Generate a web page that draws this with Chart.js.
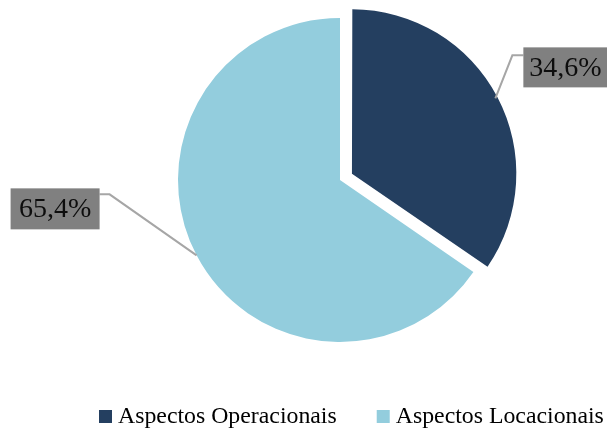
<!DOCTYPE html>
<html>
<head>
<meta charset="utf-8">
<script src="https://cdn.jsdelivr.net/npm/chart.js@4/dist/chart.umd.min.js"></script>
<style>
  html, body { margin: 0; padding: 0; background: #ffffff; }
  #wrap { width: 607px; height: 428px; }
</style>
</head>
<body>
<div id="wrap"><canvas id="chart" width="607" height="428"></canvas></div>
<script>
// Share of each group of aspects (percent)
const categories = ['Aspectos Operacionais', 'Aspectos Locacionais'];
const shares = [34.6, 65.4];
const sliceColors = ['#243F60', '#93CDDD'];

const FONT = '"Liberation Serif", "Times New Roman", serif';

// Percent labels in grey boxes joined to the slices by leader lines
const labelBoxes = {
  id: 'labelBoxes',
  afterDatasetsDraw(chart) {
    const ctx = chart.ctx;
    const meta = chart.getDatasetMeta(0);
    // box placement relative to the point on the rim: elbow, box origin, box size
    const place = [
      { elbow: [17, -43], box: [28, -51], size: [84, 40] },
      { elbow: [-87, -61], box: [-186, -67], size: [89, 41] }
    ];
    meta.data.forEach((arc, i) => {
      const p = arc.getProps(['x', 'y', 'startAngle', 'endAngle', 'outerRadius'], true);
      const mid = (p.startAngle + p.endAngle) / 2;
      const shift = (arc.options.offset || 0) / 4;
      const r = p.outerRadius + shift;
      const ax = p.x + Math.cos(mid) * r;
      const ay = p.y + Math.sin(mid) * r;
      const pl = place[i];
      const ex = ax + pl.elbow[0], ey = ay + pl.elbow[1];
      const bx = ax + pl.box[0], by = ay + pl.box[1];
      const [bw, bh] = pl.size;
      const jx = i === 0 ? bx : bx + bw;
      ctx.save();
      ctx.strokeStyle = '#A6A6A6';
      ctx.lineWidth = 2;
      ctx.beginPath();
      ctx.moveTo(ax, ay);
      ctx.lineTo(ex, ey);
      ctx.lineTo(jx, ey);
      ctx.stroke();
      ctx.fillStyle = '#808080';
      ctx.fillRect(bx, by, bw, bh);
      ctx.fillStyle = '#0d0d0d';
      ctx.font = '28px ' + FONT;
      ctx.textAlign = 'center';
      ctx.textBaseline = 'middle';
      const txt = shares[i].toFixed(1).replace('.', ',') + '%';
      ctx.fillText(txt, bx + bw / 2, by + bh / 2 + 1);
      ctx.restore();
    });
  }
};

// Legend along the bottom edge
const bottomLegend = {
  id: 'bottomLegend',
  afterDraw(chart) {
    const ctx = chart.ctx;
    ctx.save();
    ctx.font = '23.8px ' + FONT;
    ctx.textBaseline = 'alphabetic';
    ctx.textAlign = 'left';
    let x = 99;
    const base = 423;
    chart.data.labels.forEach((lab, i) => {
      ctx.fillStyle = chart.data.datasets[0].backgroundColor[i];
      ctx.fillRect(x, 410, 13, 13);
      x += 19;
      ctx.fillStyle = '#000000';
      ctx.fillText(lab, x, base);
      x += ctx.measureText(lab).width + 40;
    });
    ctx.restore();
  }
};

new Chart(document.getElementById('chart'), {
  type: 'pie',
  data: {
    labels: categories,
    datasets: [{
      data: shares,
      backgroundColor: sliceColors,
      borderWidth: 0,
      offset: [54, 0],
      hoverOffset: 0,
      radius: 162
    }]
  },
  options: {
    responsive: false,
    animation: false,
    events: [],
    layout: { padding: { left: 170, right: 97, top: 10, bottom: 78 } },
    plugins: {
      legend: { display: false },
      tooltip: { enabled: false }
    }
  },
  plugins: [labelBoxes, bottomLegend]
});
</script>
</body>
</html>
